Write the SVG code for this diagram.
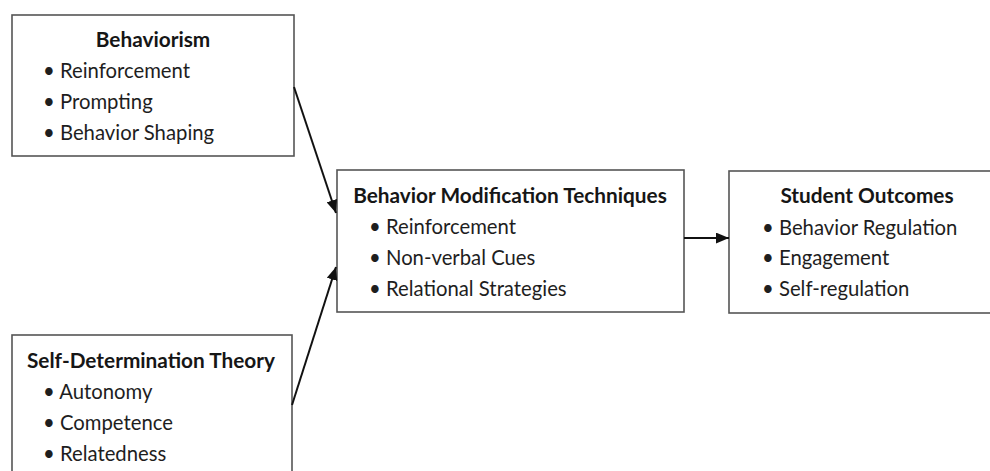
<svg xmlns="http://www.w3.org/2000/svg" width="990" height="471" viewBox="0 0 990 471">
<defs>
<style>
.box{fill:#fff;stroke:#555;stroke-width:1.6}
text{font-family:Lato,"Open Sans","Liberation Sans",sans-serif;font-size:20.3px;fill:#1e1e1e}
.t{font-weight:bold;font-size:20.8px;text-anchor:middle;fill:#161616}
.c{stroke:#111;stroke-width:2;fill:none}
</style>
<marker id="a" viewBox="0 0 12 10" refX="12" refY="5" markerWidth="13" markerHeight="11" markerUnits="userSpaceOnUse" orient="auto">
<path d="M0,0 L12,5 L0,10 z" fill="#111"/>
</marker>
</defs>
<g id="behaviorism">
<rect class="box" x="12" y="15" width="282" height="141"/>
<text class="t" x="153" y="47">Behaviorism</text>
<text x="43" y="78">• Reinforcement</text>
<text x="43" y="109">• Prompting</text>
<text x="43" y="140">• Behavior Shaping</text>
</g>
<g id="sdt">
<rect class="box" x="12" y="335" width="280" height="150"/>
<text class="t" x="151" y="368">Self-Determination Theory</text>
<text x="43" y="399">• Autonomy</text>
<text x="43" y="430">• Competence</text>
<text x="43" y="461">• Relatedness</text>
</g>
<g id="bmt">
<rect class="box" x="337" y="170" width="347" height="142"/>
<text class="t" x="510" y="203">Behavior Modification Techniques</text>
<text x="369" y="234">• Reinforcement</text>
<text x="369" y="265">• Non-verbal Cues</text>
<text x="369" y="296">• Relational Strategies</text>
</g>
<g id="outcomes">
<rect class="box" x="729" y="171" width="280" height="142"/>
<text class="t" x="867" y="203">Student Outcomes</text>
<text x="762" y="235">• Behavior Regulation</text>
<text x="762" y="265">• Engagement</text>
<text x="762" y="296">• Self-regulation</text>
</g>
<g id="connectors">
<line class="c" x1="294" y1="87" x2="336" y2="213" marker-end="url(#a)"/>
<line class="c" x1="292" y1="405" x2="336" y2="267" marker-end="url(#a)"/>
<line class="c" x1="684" y1="238" x2="729" y2="238" marker-end="url(#a)"/>
</g>
</svg>
